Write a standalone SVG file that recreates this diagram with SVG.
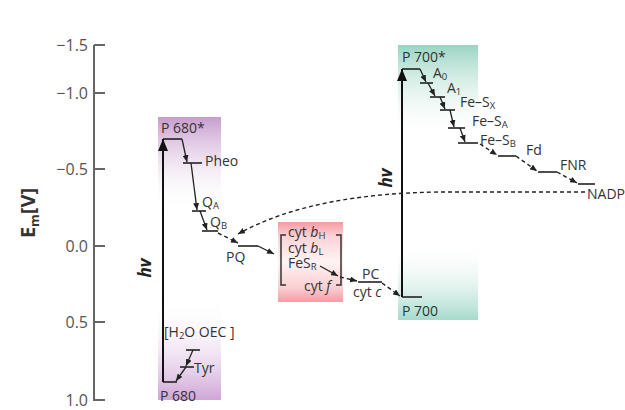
<svg xmlns="http://www.w3.org/2000/svg" width="625" height="410" viewBox="0 0 625 410">
<style>
.t{font-family:"Open Sans","Liberation Sans",sans-serif;font-size:14px;fill:#333}
.s{font-size:9.5px}
.tick{font-family:"Open Sans","Liberation Sans",sans-serif;font-size:16px;fill:#555}
.lv{stroke:#222;stroke-width:1.6;fill:none}
.ax{stroke:#666;stroke-width:2;fill:none}
.st{stroke:#222;stroke-width:1.3;fill:none;marker-end:url(#sm)}
.ds{stroke:#222;stroke-width:1.4;fill:none;stroke-dasharray:4,3;marker-end:url(#sm)}
.hv{stroke:#111;stroke-width:2;fill:none;marker-end:url(#big)}
.hvt{font-family:"Open Sans","Liberation Sans",sans-serif;font-size:17px;font-weight:bold;font-style:italic;fill:#222}
.br{stroke:#333;stroke-width:1.5;fill:none}
</style>
<defs>
<marker id="sm" markerUnits="userSpaceOnUse" markerWidth="7" markerHeight="6" refX="7" refY="3" orient="auto"><path d="M0,0 L7,3 L0,6 z" fill="#222"/></marker>
<marker id="big" markerUnits="userSpaceOnUse" markerWidth="12" markerHeight="10" refX="12" refY="5" orient="auto"><path d="M0,0 L12,5 L0,10 z" fill="#111"/></marker>
<linearGradient id="purT" x1="0" y1="0" x2="0" y2="1"><stop offset="0" stop-color="#c79ccd"/><stop offset="1" stop-color="#fff" stop-opacity="0"/></linearGradient>
<linearGradient id="purB" x1="0" y1="0" x2="0" y2="1"><stop offset="0" stop-color="#fff" stop-opacity="0"/><stop offset="1" stop-color="#cfa5d5"/></linearGradient>
<linearGradient id="grnT" x1="0" y1="0" x2="0" y2="1"><stop offset="0" stop-color="#9ad4c2"/><stop offset="1" stop-color="#fff" stop-opacity="0"/></linearGradient>
<linearGradient id="grnB" x1="0" y1="0" x2="0" y2="1"><stop offset="0" stop-color="#fff" stop-opacity="0"/><stop offset="1" stop-color="#a6dacb"/></linearGradient>
<linearGradient id="pink" x1="0" y1="0" x2="0" y2="1"><stop offset="0" stop-color="#f39ba2"/><stop offset="0.18" stop-color="#fbd3d6"/><stop offset="0.5" stop-color="#fff3f3"/><stop offset="0.82" stop-color="#fbcfd2"/><stop offset="1" stop-color="#f39ca3"/></linearGradient>
</defs>

<g id="backgrounds">
<rect x="158" y="117" width="63" height="95" fill="url(#purT)"/>
<rect x="158" y="298" width="63" height="102" fill="url(#purB)"/>
<rect x="398" y="45" width="80" height="95" fill="url(#grnT)"/>
<rect x="398" y="242" width="80" height="78" fill="url(#grnB)"/>
</g>

<g id="axis">
<path class="ax" d="M94,45 V400 H105 M94,45 H105 M94,93 H105 M94,169 H105 M94,246 H105 M94,322 H105"/>
<text class="tick" x="88" y="51" text-anchor="end">−1.5</text>
<text class="tick" x="88" y="99" text-anchor="end">−1.0</text>
<text class="tick" x="88" y="175" text-anchor="end">−0.5</text>
<text class="tick" x="88" y="252" text-anchor="end">0.0</text>
<text class="tick" x="88" y="328" text-anchor="end">0.5</text>
<text class="tick" x="88" y="406" text-anchor="end">1.0</text>
<text transform="translate(35,213) rotate(-90)" text-anchor="middle" font-family="Open Sans, Liberation Sans, sans-serif" font-size="20" font-weight="bold" fill="#333">E<tspan font-size="13" dy="4">m</tspan><tspan dy="-4">[V]</tspan></text>
</g>

<g id="P680star"><path class="lv" d="M163,139 H182"/><text class="t" x="161" y="133">P 680*</text></g>
<g id="Pheo"><path class="lv" d="M183,163 H202"/><text class="t" x="205" y="166">Pheo</text></g>
<g id="QA"><path class="lv" d="M192,211 H206"/><text class="t" x="202" y="207">Q<tspan class="s" dy="2">A</tspan></text></g>
<g id="QB"><path class="lv" d="M202,231 H218"/><text class="t" x="210" y="227">Q<tspan class="s" dy="2">B</tspan></text></g>
<g id="PQ"><path class="lv" d="M238,246 H258"/><text class="t" x="226" y="262">PQ</text></g>
<g id="cytb6f">
<rect x="278" y="222" width="65" height="80" fill="url(#pink)"/>
<path class="br" d="M286,235 H281 V285 H286 M336,235 H341 V285 H336"/>
<text class="t" x="288" y="237">cyt <tspan font-style="italic">b</tspan><tspan class="s" dy="2">H</tspan></text>
<text class="t" x="288" y="253">cyt <tspan font-style="italic">b</tspan><tspan class="s" dy="2">L</tspan></text>
<text class="t" x="288" y="268">FeS<tspan class="s" dy="2">R</tspan></text>
<text class="t" x="304" y="291">cyt <tspan font-style="italic">f</tspan></text>
</g>
<g id="PC"><path class="lv" d="M358,282 H382"/><text class="t" x="362" y="279">PC</text><text class="t" x="353" y="297">cyt <tspan font-style="italic">c</tspan></text></g>
<g id="P700"><path class="lv" d="M402,297 H422"/><text class="t" x="402" y="316">P 700</text></g>
<g id="P700star"><path class="lv" d="M402,69 H420"/><text class="t" x="402" y="62">P 700*</text></g>
<g id="A0"><path class="lv" d="M420,83 H433"/><text class="t" x="433" y="78">A<tspan class="s" dy="2">0</tspan></text></g>
<g id="A1"><path class="lv" d="M430,97 H445"/><text class="t" x="447" y="93">A<tspan class="s" dy="2">1</tspan></text></g>
<g id="FeSX"><path class="lv" d="M440,110 H455"/><text class="t" x="460" y="107">Fe–S<tspan class="s" dy="2">X</tspan></text></g>
<g id="FeSA"><path class="lv" d="M448,128 H465"/><text class="t" x="472" y="126">Fe–S<tspan class="s" dy="2">A</tspan></text></g>
<g id="FeSB"><path class="lv" d="M458,143 H478"/><text class="t" x="480" y="145">Fe–S<tspan class="s" dy="2">B</tspan></text></g>
<g id="Fd"><path class="lv" d="M498,156 H516"/><text class="t" x="526" y="155">Fd</text></g>
<g id="FNR"><path class="lv" d="M538,172 H557"/><text class="t" x="560" y="170">FNR</text></g>
<g id="NADP"><path class="lv" d="M578,184 H595"/><text class="t" x="587" y="199" font-size="15">NADP</text></g>
<g id="OEC"><path class="lv" d="M186,350 H200"/><text class="t" x="164" y="337">[H<tspan class="s" dy="2">2</tspan><tspan dy="-2">O OEC ]</tspan></text></g>
<g id="Tyr"><path class="lv" d="M180,367 H194"/><text class="t" x="194" y="373">Tyr</text></g>
<g id="P680"><path class="lv" d="M163,382 H177"/><text class="t" x="160" y="401">P 680</text></g>

<g id="connectors">
<path class="hv" d="M163,382 V139"/>
<path class="hv" d="M402,297 V69"/>
<path class="st" d="M182,139 L187,162"/>
<path class="st" d="M191,163 L197,210"/>
<path class="st" d="M200,211 L207,230"/>
<path class="ds" d="M218,233 L238,243"/>
<path class="st" d="M258,246 L274,254"/>
<path class="st" d="M320,266 L338,276"/>
<path class="ds" d="M340,277 L357,281"/>
<path class="ds" d="M382,283 L400,296"/>
<path class="st" d="M193,350 L186,366"/>
<path class="st" d="M186,367 L176,381"/>
<path class="st" d="M420,69 L426,82"/>
<path class="st" d="M428,83 L435,96"/>
<path class="st" d="M440,97 L445,109"/>
<path class="st" d="M450,110 L454,127"/>
<path class="st" d="M460,128 L465,142"/>
<path class="ds" d="M480,144 L497,155"/>
<path class="ds" d="M516,156 L537,171"/>
<path class="ds" d="M557,172 L577,183"/>
<path class="ds" d="M585,192 L440,192 C360,193 290,205 238,234"/>
<text class="hvt" transform="translate(151,268) rotate(-90)" text-anchor="middle">hv</text>
<text class="hvt" transform="translate(392,178) rotate(-90)" text-anchor="middle">hv</text>
</g>
</svg>
